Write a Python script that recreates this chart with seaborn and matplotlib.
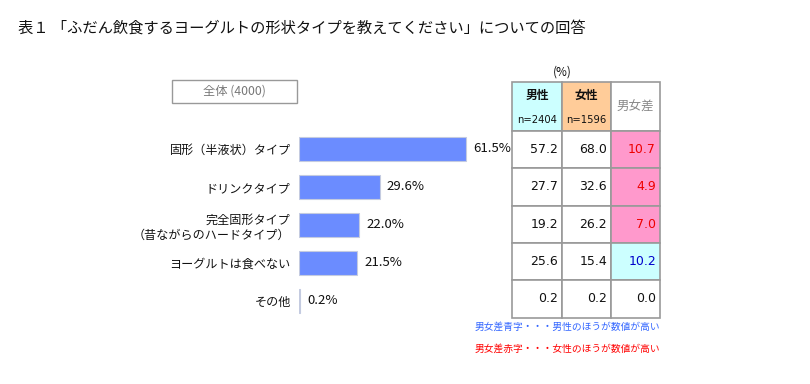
import matplotlib
matplotlib.use("Agg")
import matplotlib.pyplot as plt
from matplotlib.patches import Rectangle
import pandas as pd
import seaborn as sns

# データ
categories = ["固形（半液状）タイプ", "ドリンクタイプ", "完全固形タイプ\n（昔ながらのハードタイプ）",
              "ヨーグルトは食べない", "その他"]
total_pct = [61.5, 29.6, 22.0, 21.5, 0.2]
male_pct = [57.2, 27.7, 19.2, 25.6, 0.2]
female_pct = [68.0, 32.6, 26.2, 15.4, 0.2]
diff_pct = [10.7, 4.9, 7.0, -10.2, 0.0]  # 女性 - 男性
male_n = 2404
female_n = 1596
total_n = 4000

TITLE = "表１ 「ふだん飲食するヨーグルトの形状タイプを教えてください」についての回答"

sns.set_theme(style="white")
plt.rcParams['font.family'] = ['Noto Sans CJK JP', 'DejaVu Sans']
NUM_FONT = ['DejaVu Sans']

W, H = 810, 384
fig = plt.figure(figsize=(W / 100, H / 100), dpi=100)


def px_axes(left, top, width, height):
    return fig.add_axes([left / W, 1 - (top + height) / H, width / W, height / H])


# ========== 棒グラフ ==========
ax = px_axes(299, 130, 272, 190)
df = pd.DataFrame({"category": categories, "pct": total_pct})
sns.barplot(data=df, y="category", x="pct", orient="h", color="#6b8cff",
            edgecolor="#c4cbe0", linewidth=0.8, width=0.63, saturation=1, ax=ax)
ax.set_xlim(0, 100)
ax.set_ylim(4.5, -0.5)
ax.set_xlabel("")
ax.set_ylabel("")
ax.set_xticks([])
ax.tick_params(axis="y", length=0, pad=6, labelsize=8.7, labelcolor="#111111")
for lbl in ax.get_yticklabels():
    lbl.set_horizontalalignment("right")
    lbl.set_multialignment("right")
for s in ax.spines.values():
    s.set_visible(False)
ax.patch.set_alpha(0)
for i, v in enumerate(total_pct):
    ax.text(v + 2.7, i, f"{v:.1f}%", va="center", ha="left", fontsize=9.5, color="#111111")

# ========== ピクセル座標のオーバーレイ ==========
ov = fig.add_axes([0, 0, 1, 1])
ov.set_xlim(0, W)
ov.set_ylim(H, 0)
ov.axis("off")
ov.patch.set_alpha(0)

ov.text(18, 28, TITLE, fontsize=11, va="center", ha="left", color="#111111")

# 全体ボックス
ov.add_patch(Rectangle((172, 80), 125, 23, facecolor="white", edgecolor="#999999", lw=1))
ov.text(234.5, 91.5, f"全体 ({total_n})", fontsize=8.8, ha="center", va="center", color="#777777")

# ========== 表 ==========
col_x = [512, 562, 611, 660]
head_top, head_bot = 82, 131
row_h = 37.3
grid = "#999999"

ov.text(562, 72, "(%)", fontsize=8.5, ha="center", va="center", color="#111111")

ov.add_patch(Rectangle((col_x[0], head_top), col_x[1] - col_x[0], head_bot - head_top,
                       facecolor="#ccffff", edgecolor=grid, lw=1.2))
ov.add_patch(Rectangle((col_x[1], head_top), col_x[2] - col_x[1], head_bot - head_top,
                       facecolor="#ffcc99", edgecolor=grid, lw=1.2))
ov.add_patch(Rectangle((col_x[2], head_top), col_x[3] - col_x[2], head_bot - head_top,
                       facecolor="white", edgecolor=grid, lw=1.2))
for j, (name, n) in enumerate([("男性", male_n), ("女性", female_n)]):
    cx = (col_x[j] + col_x[j + 1]) / 2
    ov.text(cx, 95, name, fontsize=8.5, fontweight="bold", ha="center", va="center", color="#111111")
    ov.text(cx, 120, f"n={n}", fontsize=7.2, ha="center", va="center", color="#111111",
            family=NUM_FONT)
ov.text((col_x[2] + col_x[3]) / 2, 107, "男女差", fontsize=9, ha="center", va="center", color="#888888")

for i in range(len(categories)):
    top = head_bot + i * row_h
    d = diff_pct[i]
    if d > 0:
        dface, dcol = "#ff99cc", "#ee0000"
    elif d < 0:
        dface, dcol = "#ccffff", "#0000cc"
    else:
        dface, dcol = "white", "#111111"
    faces = ["white", "white", dface]
    vals = [male_pct[i], female_pct[i], abs(d)]
    colors = ["#111111", "#111111", dcol]
    for j in range(3):
        ov.add_patch(Rectangle((col_x[j], top), col_x[j + 1] - col_x[j], row_h,
                               facecolor=faces[j], edgecolor=grid, lw=1.2))
        ov.text(col_x[j + 1] - 4, top + row_h / 2, f"{vals[j]:.1f}", fontsize=9,
                ha="right", va="center", color=colors[j], family=NUM_FONT)

ov.text(660, 327, "男女差青字・・・男性のほうが数値が高い", fontsize=7, ha="right", va="center", color="#3366ff")
ov.text(660, 349, "男女差赤字・・・女性のほうが数値が高い", fontsize=7, ha="right", va="center", color="#ff0000")

fig.savefig("out.png", dpi=100, facecolor="white")
plt.close("all")
